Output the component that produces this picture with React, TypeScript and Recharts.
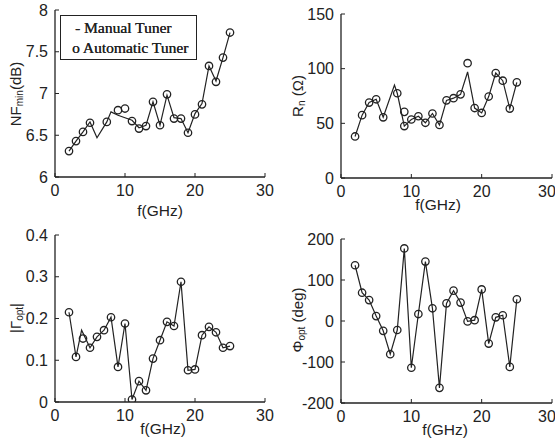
import React from 'react';
import { ComposedChart, Line, Scatter, XAxis, YAxis, Legend, Label } from 'recharts';

// ---------- data ----------
const freqTicks = [0, 10, 20, 30];

// NFmin (dB)
const nfAutoFreq = [2, 3, 4, 5, 7.4, 9, 10, 11, 12, 13, 14, 15, 16, 17, 18, 19, 20, 21, 22, 23, 24, 25];
const nfAutoValues = [6.31, 6.43, 6.54, 6.65, 6.66, 6.8, 6.82, 6.67, 6.58, 6.61, 6.9, 6.62, 6.99, 6.7, 6.7, 6.53, 6.75, 6.87, 7.33, 7.14, 7.43, 7.73];
const nfManualFreq = [2, 3, 4, 5, 6, 7.4, 8, 9, 10, 11, 12, 13, 14, 15, 16, 17, 18, 19, 20, 21, 22, 23, 24, 25];
const nfManualValues = [6.31, 6.43, 6.54, 6.66, 6.47, 6.66, 6.78, 6.74, 6.71, 6.68, 6.59, 6.62, 6.9, 6.62, 6.98, 6.71, 6.7, 6.53, 6.76, 6.88, 7.33, 7.15, 7.43, 7.73];
const nfTicks = [6, 6.5, 7, 7.5, 8];

// Rn (Ohm)
const rnAutoFreq = [2, 3, 4, 5, 6, 8, 9, 9, 10, 11, 12, 13, 14, 15, 16, 17, 18, 19, 20, 21, 22, 23, 24, 25];
const rnAutoValues = [38, 57.5, 69, 72, 55.5, 77.5, 60.5, 47.5, 53.5, 56.5, 50.5, 59, 48.5, 71, 73, 76.5, 105, 64, 59.5, 74.5, 96, 89, 63.5, 87.5];
const rnManualFreq = [2, 3, 4, 5, 6, 7.6, 8, 9, 10, 11, 12, 13, 14, 15, 16, 17, 18, 19, 20, 21, 22, 23, 24, 25];
const rnManualValues = [38, 57.5, 69, 72, 55.5, 85, 77.5, 47.5, 53.5, 56.5, 50.5, 59, 48.5, 71, 73, 76.5, 97, 64, 59.5, 74.5, 96, 89, 63.5, 87.5];
const rnTicks = [0, 50, 100, 150];

// |Gamma_opt|
const gAutoFreq = [2, 3, 4, 5, 6, 7, 8, 9, 10, 11, 12, 13, 14, 15, 16, 17, 18, 19, 20, 21, 22, 23, 24, 25];
const gAutoValues = [0.215, 0.108, 0.152, 0.13, 0.156, 0.172, 0.203, 0.084, 0.188, 0.006, 0.05, 0.028, 0.104, 0.148, 0.192, 0.182, 0.288, 0.076, 0.078, 0.16, 0.18, 0.167, 0.13, 0.134];
const gManualFreq = [2, 3, 3.8, 5, 6, 7, 8, 9, 10, 11, 12, 13, 14, 15, 16, 17, 18, 19, 20, 21, 22, 23, 24, 25];
const gManualValues = [0.215, 0.108, 0.172, 0.13, 0.156, 0.172, 0.203, 0.084, 0.188, 0.006, 0.05, 0.028, 0.104, 0.148, 0.192, 0.182, 0.288, 0.076, 0.078, 0.16, 0.18, 0.167, 0.13, 0.134];
const gTicks = [0, 0.1, 0.2, 0.3, 0.4];

// Phi_opt (deg)
const phiAutoFreq = [2, 3, 4, 5, 6, 7, 8, 9, 10, 11, 12, 13, 14, 15, 16, 17, 18, 19, 20, 21, 22, 23, 24, 25];
const phiAutoValues = [136, 69, 51, 12, -24, -81, -22, 177, -114, 17, 145, 31, -163, 43, 74, 45, -1, 2, 77, -55, 9, 14, -112, 53];
const phiManualFreq = phiAutoFreq;
const phiManualValues = phiAutoValues;
const phiTicks = [-200, -100, 0, 100, 200];

// ---------- helpers ----------
const zip = (xs: number[], ys: number[]) => xs.map((x, i) => ({ x, y: ys[i] }));

const INK = '#222222';
const FONT = '"Liberation Sans", Arial, Helvetica, sans-serif';
const SERIF = '"Liberation Serif", "Times New Roman", serif';

const OpenCircle = (props: any) => {
  const { cx, cy } = props;
  if (cx == null || cy == null) return <g />;
  return <circle cx={cx} cy={cy} r={3.7} fill="none" stroke={INK} strokeWidth={1.3} />;
};

const EmptyTick = () => <g />;

type Part = { t: string; sub?: boolean };

const YTitle = ({ cx, cy, parts }: { cx: number; cy: number; parts: Part[] }) => {
  let prevSub = false;
  return (
    <text
      x={cx}
      y={cy}
      transform={`rotate(-90 ${cx} ${cy})`}
      textAnchor="middle"
      dominantBaseline="central"
      fontFamily={FONT}
      fontSize={15}
      fill={INK}
    >
      {parts.map((p, i) => {
        let dy = 0;
        if (p.sub && !prevSub) dy = 4;
        if (!p.sub && prevSub) dy = -4;
        prevSub = !!p.sub;
        return (
          <tspan key={i} dy={dy} fontSize={p.sub ? 10 : 15}>
            {p.t}
          </tspan>
        );
      })}
    </text>
  );
};

const LegendBox = () => (
  <div
    style={{
      width: 137,
      height: 45,
      boxSizing: 'border-box',
      border: `1.6px solid ${INK}`,
      background: '#fff',
      fontFamily: SERIF,
      fontSize: 15.5,
      color: INK,
      lineHeight: '20px',
      padding: '2px 0 0 11px',
      whiteSpace: 'nowrap',
      textShadow: '0.3px 0 0 #222',
    }}
  >
    <div style={{ paddingLeft: 3 }}>- Manual Tuner</div>
    <div>o Automatic Tuner</div>
  </div>
);

type PanelProps = {
  left: number;
  top: number;
  width: number;
  height: number;
  margin: { top: number; right: number; bottom: number; left: number };
  yDomain: [number, number];
  yTicks: number[];
  auto: { x: number; y: number }[];
  manual: { x: number; y: number }[];
  yTitle: Part[];
  yTitlePos: [number, number];
  xTitlePos: [number, number];
  legend?: boolean;
};

const tickStyle = { fontSize: 16, fill: INK, fontFamily: FONT };

const Panel = (p: PanelProps) => (
  <div style={{ position: 'absolute', left: p.left, top: p.top, width: p.width, height: p.height }}>
    <ComposedChart width={p.width} height={p.height} margin={p.margin}>
      <XAxis
        xAxisId="b"
        dataKey="x"
        type="number"
        domain={[0, 30]}
        ticks={freqTicks}
        allowDataOverflow
        orientation="bottom"
        height={30}
        tickSize={-4}
        tickMargin={12}
        tick={tickStyle}
        axisLine={{ stroke: INK, strokeWidth: 1.3 }}
        tickLine={{ stroke: INK }}
      >
        <Label
          content={() => (
            <text
              x={p.xTitlePos[0]}
              y={p.xTitlePos[1]}
              textAnchor="middle"
              dominantBaseline="central"
              fontFamily={FONT}
              fontSize={15.5}
              fill={INK}
            >
              f(GHz)
            </text>
          )}
        />
      </XAxis>
      <XAxis
        xAxisId="t"
        type="number"
        domain={[0, 30]}
        ticks={freqTicks}
        allowDataOverflow
        orientation="top"
        height={0}
        tickSize={-4}
        tick={EmptyTick}
        axisLine={{ stroke: INK, strokeWidth: 1.3 }}
        tickLine={{ stroke: INK }}
      />
      <YAxis
        yAxisId="l"
        dataKey="y"
        type="number"
        domain={p.yDomain}
        ticks={p.yTicks}
        allowDataOverflow
        width={40}
        tickSize={-4}
        tickMargin={11}
        tick={tickStyle}
        axisLine={{ stroke: INK, strokeWidth: 1.3 }}
        tickLine={{ stroke: INK }}
      >
        <Label content={() => <YTitle cx={p.yTitlePos[0]} cy={p.yTitlePos[1]} parts={p.yTitle} />} />
      </YAxis>
      <YAxis
        yAxisId="r"
        type="number"
        orientation="right"
        domain={p.yDomain}
        ticks={p.yTicks}
        allowDataOverflow
        width={0}
        tickSize={-4}
        tick={EmptyTick}
        axisLine={{ stroke: INK, strokeWidth: 1.3 }}
        tickLine={{ stroke: INK }}
      />
      <Line
        xAxisId="b"
        yAxisId="l"
        data={p.manual}
        dataKey="y"
        type="linear"
        stroke={INK}
        strokeWidth={1.2}
        dot={false}
        activeDot={false}
        isAnimationActive={false}
        name="Manual Tuner"
      />
      <Scatter
        xAxisId="b"
        yAxisId="l"
        data={p.auto}
        dataKey="y"
        shape={OpenCircle}
        isAnimationActive={false}
        name="Automatic Tuner"
      />
      {p.legend && (
        <Legend
          layout="horizontal"
          verticalAlign="middle"
          align="center"
          content={() => <LegendBox />}
          wrapperStyle={{ left: 60, top: 15, width: 137, height: 45 }}
        />
      )}
    </ComposedChart>
  </div>
);

export default function App() {
  return (
    <div style={{ position: 'absolute', left: 0, top: 0, width: 555, height: 445, background: '#fff' }}>
      <Panel
        left={0}
        top={0}
        width={277}
        height={222}
        margin={{ top: 10, right: 12, bottom: 15, left: 15 }}
        yDomain={[6, 8]}
        yTicks={nfTicks}
        auto={zip(nfAutoFreq, nfAutoValues)}
        manual={zip(nfManualFreq, nfManualValues)}
        yTitle={[{ t: 'NF' }, { t: 'min', sub: true }, { t: '(dB)' }]}
        yTitlePos={[15, 94]}
        xTitlePos={[160, 210]}
        legend
      />
      <Panel
        left={277}
        top={0}
        width={278}
        height={222}
        margin={{ top: 14, right: 3, bottom: 14, left: 24 }}
        yDomain={[0, 150]}
        yTicks={rnTicks}
        auto={zip(rnAutoFreq, rnAutoValues)}
        manual={zip(rnManualFreq, rnManualValues)}
        yTitle={[{ t: 'R' }, { t: 'n', sub: true }, { t: ' (Ω)' }]}
        yTitlePos={[20, 96]}
        xTitlePos={[161, 204]}
      />
      <Panel
        left={0}
        top={222}
        width={277}
        height={223}
        margin={{ top: 13, right: 12, bottom: 13, left: 15 }}
        yDomain={[0, 0.4]}
        yTicks={gTicks}
        auto={zip(gAutoFreq, gAutoValues)}
        manual={zip(gManualFreq, gManualValues)}
        yTitle={[{ t: '|Γ' }, { t: 'opt', sub: true }, { t: '|' }]}
        yTitlePos={[15, 96]}
        xTitlePos={[163, 206]}
      />
      <Panel
        left={277}
        top={222}
        width={278}
        height={223}
        margin={{ top: 17, right: 3, bottom: 12, left: 24 }}
        yDomain={[-200, 200]}
        yTicks={phiTicks}
        auto={zip(phiAutoFreq, phiAutoValues)}
        manual={zip(phiManualFreq, phiManualValues)}
        yTitle={[{ t: 'Φ' }, { t: 'opt', sub: true }, { t: ' (deg)' }]}
        yTitlePos={[20, 98]}
        xTitlePos={[168, 207]}
      />
    </div>
  );
}
